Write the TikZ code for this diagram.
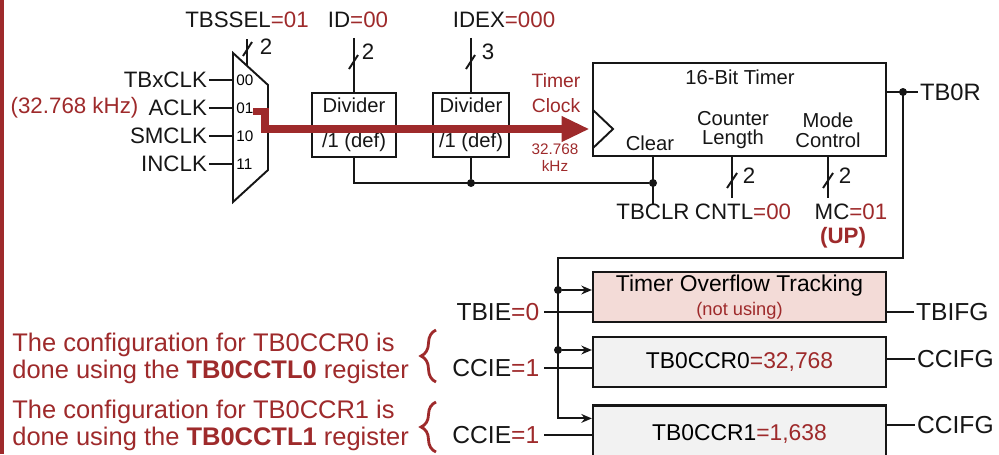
\documentclass[tikz,border=0pt]{standalone}
\usepackage{fontspec}
\setmainfont{Liberation Sans}
\usepackage{xcolor}
\usepackage{tikz}
\usetikzlibrary{arrows.meta, positioning, calc, decorations.pathreplacing}
\definecolor{myred}{RGB}{158,42,43}
\definecolor{mydark}{RGB}{22,22,22}
\definecolor{hdrpink}{RGB}{243,219,215}
\definecolor{hdrgrey}{RGB}{242,242,242}
\tikzset{
  lbl/.style={inner xsep=1pt, inner ysep=0pt, text=mydark,
    font=\fontsize{12.7}{14}\selectfont},
  boxtxt/.style={inner sep=0pt, align=center, text=mydark,
    font=\fontsize{11.5}{11.3}\selectfont},
  sigtxt/.style={inner xsep=2.5pt, inner ysep=0pt, text=mydark,
    font=\fontsize{14}{16}\selectfont},
  note/.style={inner sep=0pt, align=left, text=myred,
    font=\fontsize{14.5}{15.3}\selectfont},
  tinytxt/.style={inner xsep=1.5pt, inner ysep=0pt,
    font=\fontsize{8.7}{9.6}\selectfont},
  divbox/.style={rectangle, draw=mydark, line width=1.2pt,
    minimum width=1.52cm, minimum height=1.28cm, inner sep=0pt},
  timerbox/.style={rectangle, draw=mydark, line width=1.3pt,
    minimum width=5.86cm, minimum height=1.86cm, inner sep=0pt},
  regbox/.style={rectangle, draw=mydark, fill=hdrgrey, line width=1.3pt,
    minimum width=5.86cm, minimum height=1.0cm, inner sep=0pt,
    align=center, font=\fontsize{13}{13.6}\selectfont},
  ovfbox/.style={regbox, fill=hdrpink},
  dot/.style={circle, fill=mydark, minimum size=0.16cm, inner sep=0pt},
  wire/.style={line width=1.1pt, color=mydark},
  arrow/.style={wire, -{Stealth[length=6pt, width=5pt]}},
  clkarrow/.style={line width=4.5pt, color=myred, line join=miter,
    -{Triangle[length=0.56cm, width=0.48cm]}},
  notebrace/.style={decorate, decoration={brace, amplitude=0.3cm},
    line width=1.6pt, color=myred}
}

\begin{document}
\begin{tikzpicture}[x=0.02cm, y=-0.02cm]
  \clip (0,0) rectangle (999,454);
  \fill[myred] (0,0) rectangle (4,454);

  % clock source mux
  \draw[wire] (233,53) -- (268,85) -- (268,170) -- (233,202) -- cycle;
  \node[lbl] (tbssel) at (247,20) {TBSSEL\textcolor{myred}{=01}};
  \coordinate (selin) at (247,39);
  \coordinate (selmux) at (247,66);
  \draw[wire] (selin) -- (selmux);
  \draw[wire] (243,56) -- (252,42);
  \node[lbl] (selw) at (266,47) {2};

  \node[tinytxt, anchor=west] (n00) at (233.5,80)  {00};
  \node[tinytxt, anchor=west] (n01) at (233.5,108) {01};
  \node[tinytxt, anchor=west] (n10) at (233.5,136) {10};
  \node[tinytxt, anchor=west] (n11) at (233.5,164) {11};
  \node[lbl, anchor=east] (tbxclk) at (209,80)  {TBxCLK};
  \node[lbl, anchor=east] (aclk)   at (209,108) {ACLK};
  \node[lbl, anchor=east] (smclk)  at (209,136) {SMCLK};
  \node[lbl, anchor=east] (inclk)  at (209,164) {INCLK};
  \node[lbl, text=myred, left=0.12cm of aclk] (aclkf) {(32.768 kHz)};
  \draw[wire] (tbxclk.east) -- (n00.west);
  \draw[wire] (aclk.east)   -- (n01.west);
  \draw[wire] (smclk.east)  -- (n10.west);
  \draw[wire] (inclk.east)  -- (n11.west);

  % dividers
  \node[divbox, minimum width=1.68cm] (div1) at (354,125) {};
  \node[divbox] (div2) at (471,125) {};
  \node[boxtxt, below=0.12cm of div1.north] (div1a) {Divider};
  \node[boxtxt, above=0.12cm of div1.south] (div1b) {/1 (def)};
  \node[boxtxt, below=0.12cm of div2.north] (div2a) {Divider};
  \node[boxtxt, above=0.12cm of div2.south] (div2b) {/1 (def)};
  \node[lbl] (idsel) at (358,20) {ID\textcolor{myred}{=00}};
  \node[lbl] (idexsel) at (504,20) {IDEX\textcolor{myred}{=000}};
  \path (div1.north) ++(0,-54) coordinate (idtop);
  \path (div2.north) ++(0,-54) coordinate (idextop);
  \draw[wire] (idtop) -- (div1.north);
  \draw[wire] (idextop) -- (div2.north);
  \draw[wire] (349,69) -- (358,55);
  \draw[wire] (466,69) -- (475,55);
  \node[lbl] (idw) at (368,52) {2};
  \node[lbl] (idexw) at (488,52) {3};

  % 16-bit timer
  \node[timerbox] (timer) at (739.5,109.5) {};
  \coordinate (clk) at (593,129);
  \draw[wire] (593,110) -- (613,129) -- (593,148);
  \node[boxtxt] (ttitle) at (740,77) {16-Bit Timer};
  \node[boxtxt] (clear)  at (650,143) {Clear};
  \node[boxtxt] (cntlen) at (733,130) {Counter\\Length};
  \node[boxtxt] (mode)   at (828,130) {Mode\\Control};
  \node[boxtxt, text=myred, font=\fontsize{11}{14.2}\selectfont]
    (tclk) at (556,93) {Timer\\Clock};
  \node[tinytxt, text=myred, align=center] (tfreq) at (555,158) {32.768\\kHz};

  % timer clock path
  \coordinate (aclkin) at (253,111.5);
  \draw[clkarrow] (aclkin) -- (265,111.5) -- (265,129) -- ([xshift=-2pt]clk);

  % clear line
  \node[lbl] (tbclr) at (653,212) {TBCLR};
  \node[dot] (clrdot) at (653,183) {};
  \node[dot] (divdot) at (div2.south |- clrdot) {};
  \draw[wire] (div1.south) |- (clrdot);
  \draw[wire] (div2.south) -- (divdot);
  \draw[wire] (timer.south -| clrdot) -- (tbclr.north);

  % counter length / mode control
  \coordinate (cntlend) at (732,198);
  \coordinate (mcend) at (828,198);
  \draw[wire] (timer.south -| cntlend) -- (cntlend);
  \draw[wire] (timer.south -| mcend) -- (mcend);
  \draw[wire] (727,188) -- (737,173);
  \draw[wire] (823,188) -- (833,173);
  \node[lbl] (cntlw) at (749,176) {2};
  \node[lbl] (mcw) at (845,176) {2};
  \node[lbl] (cntl) at (743,212) {CNTL\textcolor{myred}{=00}};
  \node[lbl] (mc) at (851,212) {MC\textcolor{myred}{=01}};
  \node[lbl, text=myred, font=\bfseries\fontsize{12.7}{14}\selectfont]
    (up) at (843,238) {(UP)};

  % TB0R output and bus
  \node[lbl, anchor=west, font=\fontsize{13.5}{14}\selectfont] (tb0r) at (918,92) {TB0R};
  \node[dot] (tbdot) at (903,92) {};
  \draw[wire] (timer.east |- tb0r.west) -- (tb0r.west);

  % interrupt blocks
  \node[ovfbox] (ovf) at (739.5,297)
    {Timer Overflow Tracking\\{\fontsize{10.4}{12}\selectfont\color{myred}(not using)}};
  \node[regbox, below=0.26cm of ovf] (ccr0) {TB0CCR0\textcolor{myred}{=32,768}};
  \node[regbox, below=0.32cm of ccr0, minimum height=1.14cm] (ccr1) {TB0CCR1\textcolor{myred}{=1,638}};

  \coordinate (busl) at (558,258);
  \node[dot] (j1) at (558,290) {};
  \node[dot] (j2) at (558,350) {};
  \draw[arrow] (tbdot.center) |- (busl) |- ([yshift=-0.28cm]ccr1.north west);
  \draw[arrow] (j1) -- (ovf.west |- j1);
  \draw[arrow] (j2) -- (ccr0.west |- j2);

  \node[sigtxt, anchor=east] (tbie) at (544,312) {TBIE\textcolor{myred}{=0}};
  \node[sigtxt, anchor=east] (ccie0) at (544,368) {CCIE\textcolor{myred}{=1}};
  \node[sigtxt, anchor=east] (ccie1) at (544,435) {CCIE\textcolor{myred}{=1}};
  \draw[wire] (tbie.east) -- (ovf.west |- tbie.east);
  \draw[wire] (ccie0.east) -- (ccr0.west |- ccie0.east);
  \draw[wire] (ccie1.east) -- (ccr1.west |- ccie1.east);

  \node[sigtxt, anchor=west, inner xsep=1pt] (tbifg) at (914,312) {TBIFG};
  \node[sigtxt, anchor=west, inner xsep=1pt] (ccifg0) at (915,359) {CCIFG};
  \node[sigtxt, anchor=west, inner xsep=1pt] (ccifg1) at (915,425) {CCIFG};
  \draw[wire] (ovf.east |- tbifg.west) -- (tbifg.west);
  \draw[wire] (ccr0.east |- ccifg0.west) -- (ccifg0.west);
  \draw[wire] (ccr1.east |- ccifg1.west) -- (ccifg1.west);

  % notes
  \node[note, anchor=west] (note0) at (12,358)
    {The configuration for TB0CCR0 is\\done using the \textbf{TB0CCTL0} register};
  \node[note, anchor=west] (note1) at (12,425)
    {The configuration for TB0CCR1 is\\done using the \textbf{TB0CCTL1} register};
  \draw[notebrace] (436,382) -- (436,330);
  \draw[notebrace] (436,452) -- (436,402);
\end{tikzpicture}
\end{document}
